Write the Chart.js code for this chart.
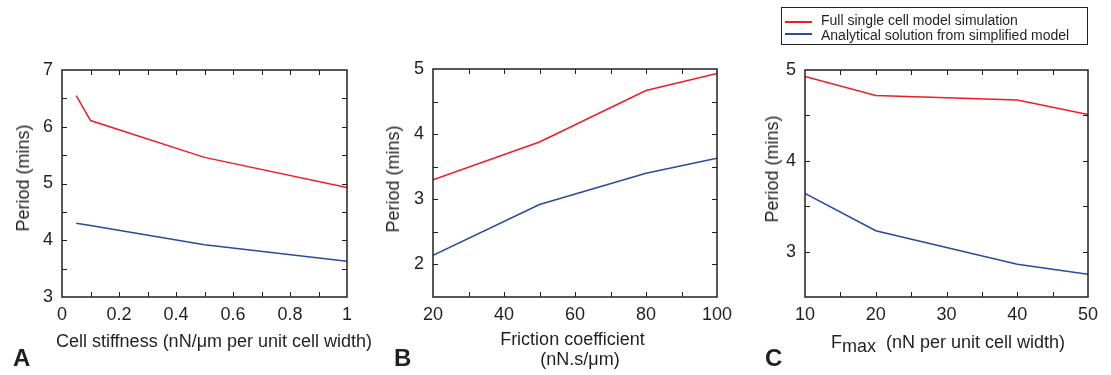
<!DOCTYPE html>
<html>
<head>
<meta charset="utf-8">
<script src="https://cdn.jsdelivr.net/npm/chart.js@4/dist/chart.umd.min.js"></script>
<style>
  html, body { margin: 0; padding: 0; background: #fff; }
  #wrap { position: relative; width: 1111px; height: 375px; overflow: hidden; font-family: "Liberation Sans", Arial, sans-serif; color: #231f20; }
  canvas { position: absolute; left: 0; top: 0; }
  .t { position: absolute; white-space: nowrap; font-size: 18px; line-height: 18px; }
  .yt { position: absolute; white-space: nowrap; font-size: 18px; line-height: 18px; transform: translate(-50%, -50%) rotate(-90deg); }
  .let { position: absolute; font-size: 24px; line-height: 24px; font-weight: bold; }
  .lg { position: absolute; white-space: nowrap; font-size: 14px; line-height: 14px; }
</style>
</head>
<body>
<div id="wrap">
  <canvas id="cA" width="1111" height="375"></canvas>
  <canvas id="cB" width="1111" height="375"></canvas>
  <canvas id="cC" width="1111" height="375"></canvas>

  <div class="yt" style="left:22.5px; top:178px;">Period (mins)</div>
  <div class="yt" style="left:393px; top:179px;">Period (mins)</div>
  <div class="yt" style="left:772px; top:169px;">Period (mins)</div>

  <div class="t" style="left:214px; top:331.8px; transform:translateX(-50%);">Cell stiffness (nN/μm per unit cell width)</div>
  <div class="t" style="left:572.5px; top:329.8px; transform:translateX(-50%);">Friction coefficient</div>
  <div class="t" style="left:580px; top:349.8px; transform:translateX(-50%);">(nN.s/μm)</div>
  <div class="t" style="left:948px; top:333.3px; transform:translateX(-50%);">F<span style="position:relative; top:3.5px;">max</span>&nbsp; (nN per unit cell width)</div>

  <div class="let" style="left:13px; top:345.5px;">A</div>
  <div class="let" style="left:394px; top:345.5px;">B</div>
  <div class="let" style="left:765px; top:345.5px;">C</div>

  <div style="position:absolute; left:781px; top:7px; width:305px; height:36px; border:1.5px solid #222;"></div>
  <div style="position:absolute; left:785px; top:21px; width:27px; height:2px; background:#ee1d23;"></div>
  <div style="position:absolute; left:785px; top:33px; width:27px; height:2px; background:#2b4a9e;"></div>
  <div class="lg" style="left:821px; top:13.2px;">Full single cell model simulation</div>
  <div class="lg" style="left:821px; top:27.6px;">Analytical solution from simplified model</div>
</div>
<script>
// ---- data ----
const seriesNames = ['Full single cell model simulation', 'Analytical solution from simplified model'];

const stiffnessX = [0.05, 0.1, 0.5, 1];
const stiffnessFull = [6.55, 6.11, 5.46, 4.93];
const stiffnessAnalytical = [4.30, 4.26, 3.92, 3.63];

const frictionX = [20, 50, 80, 100];
const frictionFull = [3.30, 3.88, 4.67, 4.93];
const frictionAnalytical = [2.14, 2.92, 3.40, 3.63];

const fmaxX = [10, 20, 40, 50];
const fmaxFull = [4.93, 4.72, 4.67, 4.51];
const fmaxAnalytical = [3.64, 3.23, 2.86, 2.75];

const stiffnessTickLabels = ['0', '0.2', '0.4', '0.6', '0.8', '1'];
const frictionTickLabels = ['20', '40', '60', '80', '100'];
const fmaxTickLabels = ['10', '20', '30', '40', '50'];

// ---- styling ----
const RED = '#ee1d23';
const BLUE = '#2b4a9e';
const AXIS = '#231f20';
const FONT = { family: '"Liberation Sans", Arial, sans-serif', size: 18 };
const W = 1111, H = 375;
const YW = 50, XH = 30;

const boxTicks = {
  id: 'boxTicks',
  afterDraw(chart) {
    const ctx = chart.ctx;
    const a = chart.chartArea;
    const len = 5;
    ctx.save();
    ctx.strokeStyle = AXIS;
    ctx.lineWidth = 1;
    const xs = chart.scales.x, ys = chart.scales.y;
    xs.ticks.forEach(t => {
      const px = Math.round(xs.getPixelForValue(t.value)) + 0.5;
      if (px <= a.left + 1 || px >= a.right - 1) return;
      ctx.beginPath();
      ctx.moveTo(px, a.bottom); ctx.lineTo(px, a.bottom - len);
      ctx.moveTo(px, a.top); ctx.lineTo(px, a.top + len);
      ctx.stroke();
    });
    ys.ticks.forEach(t => {
      const py = Math.round(ys.getPixelForValue(t.value)) + 0.5;
      if (py <= a.top + 1 || py >= a.bottom - 1) return;
      ctx.beginPath();
      ctx.moveTo(a.left, py); ctx.lineTo(a.left + len, py);
      ctx.moveTo(a.right, py); ctx.lineTo(a.right - len, py);
      ctx.stroke();
    });
    ctx.lineWidth = 1.5;
    ctx.strokeRect(a.left, a.top, a.right - a.left, a.bottom - a.top);
    ctx.restore();
  }
};

function makeChart(id, area, xVals, full, analytical, xOpt, yOpt, xLabels) {
  const pts = (ys) => xVals.map((x, i) => ({ x: x, y: ys[i] }));
  return new Chart(document.getElementById(id), {
    type: 'line',
    data: {
      datasets: [
        { label: seriesNames[0], data: pts(full), borderColor: RED, borderWidth: 1.5, pointRadius: 0, tension: 0, fill: false },
        { label: seriesNames[1], data: pts(analytical), borderColor: BLUE, borderWidth: 1.5, pointRadius: 0, tension: 0, fill: false }
      ]
    },
    options: {
      responsive: false,
      animation: false,
      events: [],
      layout: { padding: { left: area.L - YW, right: W - area.R, top: area.T, bottom: H - area.B - XH } },
      plugins: { legend: { display: false }, tooltip: { enabled: false } },
      scales: {
        x: {
          type: 'linear', min: xOpt.min, max: xOpt.max,
          grid: { display: false, drawTicks: false },
          border: { display: false },
          afterFit: (s) => { s.height = XH; },
          ticks: {
            stepSize: xOpt.step, autoSkip: false, maxRotation: 0, padding: 7,
            color: AXIS, font: FONT,
            callback: (v) => {
              const k = Math.round((v - xOpt.min) / xOpt.labelStep);
              if (Math.abs((v - xOpt.min) / xOpt.labelStep - k) > 1e-6) return '';
              return xLabels[k];
            }
          }
        },
        y: {
          type: 'linear', min: yOpt.min, max: yOpt.max,
          grid: { display: false, drawTicks: false },
          border: { display: false },
          afterFit: (s) => { s.width = YW; },
          ticks: {
            stepSize: 0.5, autoSkip: false, padding: 9,
            color: AXIS, font: FONT,
            callback: (v) => Math.abs(v - Math.round(v)) < 1e-6 ? String(Math.round(v)) : ''
          }
        }
      }
    },
    plugins: [boxTicks]
  });
}

makeChart('cA', { L: 62, R: 347, T: 70, B: 297 }, stiffnessX, stiffnessFull, stiffnessAnalytical,
  { min: 0, max: 1, step: 0.1, labelStep: 0.2 }, { min: 3, max: 7 }, stiffnessTickLabels);
makeChart('cB', { L: 433, R: 717, T: 69, B: 297 }, frictionX, frictionFull, frictionAnalytical,
  { min: 20, max: 100, step: 10, labelStep: 20 }, { min: 1.5, max: 5 }, frictionTickLabels);
makeChart('cC', { L: 805, R: 1088, T: 70, B: 297 }, fmaxX, fmaxFull, fmaxAnalytical,
  { min: 10, max: 50, step: 5, labelStep: 10 }, { min: 2.5, max: 5 }, fmaxTickLabels);
</script>
</body>
</html>
